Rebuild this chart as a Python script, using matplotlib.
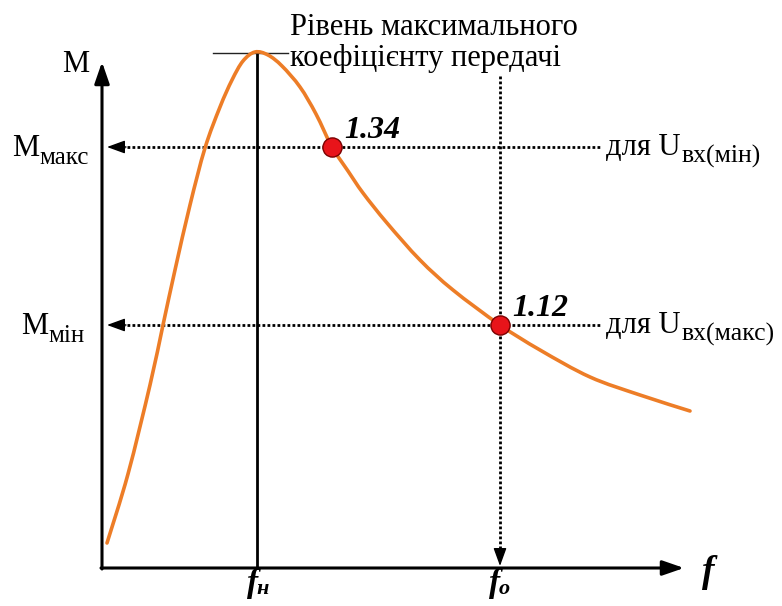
import matplotlib
matplotlib.use("Agg")
import numpy as np
import matplotlib.pyplot as plt
from matplotlib.path import Path
from matplotlib.patches import PathPatch

# ---- data (schematic coordinates; M grows upward -> smaller value on inverted axis) ----
curve_f = [107, 128, 150, 163, 175, 190, 205, 220, 232, 243, 255,
           268, 282, 300, 316, 332, 348, 363, 387, 420, 453, 500, 540, 590, 640, 690]
curve_M = [543, 474, 385, 325, 270, 205, 148, 107, 80, 61, 52,
           55, 66, 87, 114, 147, 171, 193, 223, 260, 290, 325, 350, 377, 395, 411]

point_f = [332, 500]
point_M = [147, 325]
point_labels = ["1.34", "1.12"]

level_names = ["макс", "мін"]          # M_макс, M_мін
level_M = [147, 325]
u_names = ["вх(мін)", "вх(макс)"]

f_low = 257      # f_н
f_op = 500       # f_o
M_peak = 52

title_lines = "Рівень максимального\nкоефіцієнту передачі"

SERIF = ["Liberation Serif", "DejaVu Serif"]
ORANGE = "#ED7D27"

fig = plt.figure(figsize=(7.82, 6.06), dpi=100)
ax = fig.add_axes([0, 0, 1, 1])
ax.set_xlim(0, 782)
ax.set_ylim(606, 0)
ax.axis("off")

x0, y0 = 102, 568   # origin

# axes with arrows
ax.annotate("", xy=(x0, 62), xytext=(x0, y0 + 1),
            arrowprops=dict(arrowstyle="-|>,head_length=1.3,head_width=0.45", color="black", lw=2.2,
                            shrinkA=0, shrinkB=0))
ax.annotate("", xy=(684, y0), xytext=(x0 - 1, y0),
            arrowprops=dict(arrowstyle="-|>,head_length=1.3,head_width=0.45", color="black", lw=2.2,
                            shrinkA=0, shrinkB=0))

# vertical solid line at f_н and peak level line
ax.plot([f_low, f_low], [M_peak, y0], color="black", lw=2.0, zorder=2)
ax.plot([213, 288], [M_peak + 1, M_peak + 1], color="#222222", lw=1.0, zorder=2)

# dotted lines
dot = (0, (1, 0.8))
ax.plot([f_op, f_op], [76, 552], color="black", lw=2.0, linestyle=dot, zorder=2)
ax.annotate("", xy=(f_op, 566), xytext=(f_op, 548),
            arrowprops=dict(arrowstyle="-|>,head_length=1.1,head_width=0.4", color="black", lw=1.0,
                            shrinkA=0, shrinkB=0))
for yv in level_M:
    ax.plot([122, 600], [yv, yv], color="black", lw=2.0, linestyle=dot, zorder=2)
    ax.annotate("", xy=(107, yv), xytext=(126, yv),
                arrowprops=dict(arrowstyle="-|>,head_length=1.1,head_width=0.4", color="black", lw=1.0,
                                shrinkA=0, shrinkB=0))

# curve: smooth Catmull-Rom path through the read points
P = np.column_stack([curve_f, curve_M]).astype(float)
verts = [P[0]]
codes = [Path.MOVETO]
for i in range(len(P) - 1):
    p0 = P[i - 1] if i > 0 else P[i]
    p1, p2 = P[i], P[i + 1]
    p3 = P[i + 2] if i + 2 < len(P) else P[i + 1]
    c1 = p1 + (p2 - p0) / 6.0
    c2 = p2 - (p3 - p1) / 6.0
    verts += [c1, c2, p2]
    codes += [Path.CURVE4] * 3
ax.add_patch(PathPatch(Path(verts, codes), facecolor="none", edgecolor=ORANGE, lw=2.6,
                       capstyle="round", transform=ax.transData, zorder=3))

# points and labels
ax.scatter(point_f, point_M, s=190, color="#E8141A", edgecolor="#7A0000", linewidth=1.0, zorder=5)
for fx, my, lab in zip(point_f, point_M, point_labels):
    ax.text(fx + 12, my - 9, lab, family=SERIF, fontsize=23, fontweight="bold", fontstyle="italic",
            ha="left", va="baseline", zorder=6)

# M labels
ax.text(76, 72, "M", family=SERIF, fontsize=22, ha="center", va="baseline")
m_x = [12, 21]
for xm, yv, nm in zip(m_x, level_M, level_names):
    t = ax.text(xm, yv + 9, "M", family=SERIF, fontsize=22, ha="left", va="baseline")
    ax.annotate(nm, xy=(1, 0), xycoords=t, xytext=(0.5, -4), textcoords="offset points",
                family=SERIF, fontsize=18, ha="left", va="bottom")

# right labels
for yv, nm in zip(level_M, u_names):
    t = ax.text(606, yv + 8, "для U", family=SERIF, fontsize=22, ha="left", va="baseline")
    ax.annotate(nm, xy=(1, 0), xycoords=t, xytext=(1, -4), textcoords="offset points",
                family=SERIF, fontsize=18.5, ha="left", va="bottom")

# title annotation
ax.text(290, 13, title_lines, family=SERIF, fontsize=22, ha="left", va="top", linespacing=1.07)

# frequency labels
ax.text(702, 582, "f", family=SERIF, fontsize=27, fontweight="bold", fontstyle="italic",
        ha="left", va="baseline")
t1 = ax.text(247, 592, "f", family=SERIF, fontsize=24, fontweight="bold", fontstyle="italic",
             ha="left", va="baseline")
ax.annotate("н", xy=(1, 0), xycoords=t1, xytext=(-1, 0), textcoords="offset points",
            family=SERIF, fontsize=16, fontweight="bold", fontstyle="italic", ha="left", va="bottom")
t2 = ax.text(489, 592, "f", family=SERIF, fontsize=24, fontweight="bold", fontstyle="italic",
             ha="left", va="baseline")
ax.annotate("o", xy=(1, 0), xycoords=t2, xytext=(-1, 0), textcoords="offset points",
            family=SERIF, fontsize=16, fontweight="bold", fontstyle="italic", ha="left", va="bottom")

fig.savefig("out.png", dpi=100)
